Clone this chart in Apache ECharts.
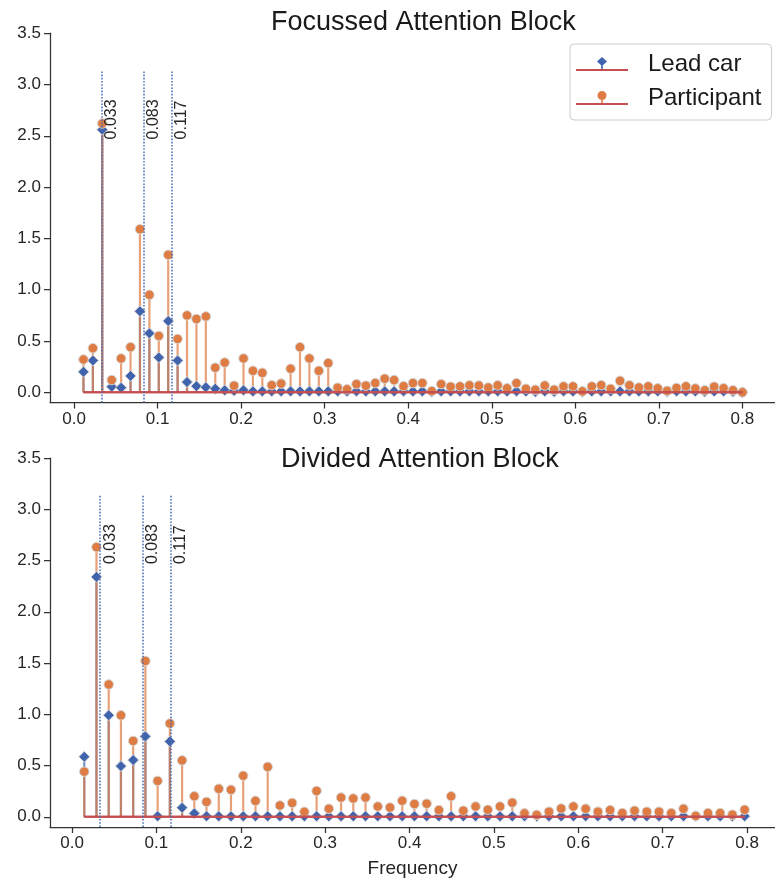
<!DOCTYPE html>
<html>
<head>
<meta charset="utf-8">
<script src="https://cdn.jsdelivr.net/npm/echarts@6/dist/echarts.min.js"></script>
<style>
  html, body { margin: 0; padding: 0; background: #fff; }
  #chart { width: 775px; height: 884px; }
</style>
</head>
<body>
<div id="chart"></div>
<script>
// ---------------- DATA ----------------
// Frequency grids (evenly spaced spectral bins)
const freqTop = Array.from({ length: 71 }, (_, i) => (i + 1) * 0.8 / 71);
const freqBottom = Array.from({ length: 55 }, (_, i) => (i + 1) / 69);

// Focussed Attention Block
const focLead = [0.20, 0.31, 2.56, 0.055, 0.045, 0.16, 0.79, 0.575, 0.34, 0.695,
  0.31, 0.10, 0.06, 0.05, 0.035, 0.02, 0.015, 0.02, 0.01, 0.01,
  0.01, 0.01, 0.01, 0.01, 0.01, 0.01, 0.01, 0.01, 0.01, 0.01,
  0.01, 0.01, 0.01, 0.01, 0.01, 0.01, 0.01, 0.005, 0.01, 0.01,
  0.01, 0.01, 0.01, 0.01, 0.01, 0.01, 0.01, 0.01, 0.005, 0.01,
  0.005, 0.01, 0.01, 0.005, 0.01, 0.01, 0.01, 0.01, 0.01, 0.01,
  0.01, 0.01, 0.005, 0.01, 0.01, 0.01, 0.005, 0.01, 0.01, 0.005, 0.0];
const focPart = [0.32, 0.43, 2.62, 0.12, 0.33, 0.44, 1.59, 0.95, 0.55, 1.34,
  0.52, 0.75, 0.715, 0.74, 0.24, 0.29, 0.065, 0.33, 0.21, 0.19,
  0.07, 0.085, 0.23, 0.44, 0.33, 0.21, 0.285, 0.045, 0.03, 0.08,
  0.065, 0.09, 0.133, 0.12, 0.06, 0.09, 0.09, 0.012, 0.08, 0.055,
  0.058, 0.068, 0.066, 0.047, 0.068, 0.04, 0.089, 0.035, 0.025, 0.066,
  0.025, 0.058, 0.058, 0.01, 0.058, 0.07, 0.034, 0.112, 0.068, 0.047,
  0.058, 0.039, 0.015, 0.043, 0.058, 0.038, 0.02, 0.055, 0.04, 0.02, 0.0];

// Divided Attention Block
const divLead = [0.585, 2.34, 0.99, 0.494, 0.553, 0.784, 0.005, 0.735, 0.088, 0.033,
  0.005, 0.005, 0.005, 0.005, 0.005, 0.005, 0.005, 0.005, 0.005, 0.005,
  0.005, 0.005, 0.005, 0.005, 0.005, 0.005, 0.005, 0.005, 0.005, 0.005,
  0.005, 0.005, 0.005, 0.005, 0.005, 0.005, 0.005, 0.005, 0.005, 0.005,
  0.005, 0.005, 0.005, 0.005, 0.005, 0.005, 0.005, 0.005, 0.005, 0.005,
  0.005, 0.005, 0.005, 0.005, 0.005];
const divPart = [0.44, 2.63, 1.29, 0.99, 0.74, 1.52, 0.35, 0.91, 0.55, 0.20,
  0.145, 0.273, 0.263, 0.40, 0.155, 0.487, 0.11, 0.135, 0.048, 0.252,
  0.078, 0.187, 0.178, 0.187, 0.10, 0.09, 0.156, 0.124, 0.127, 0.065,
  0.20, 0.059, 0.10, 0.068, 0.10, 0.137, 0.033, 0.018, 0.049, 0.08,
  0.10, 0.078, 0.049, 0.065, 0.036, 0.059, 0.049, 0.049, 0.036, 0.078,
  0.008, 0.036, 0.036, 0.02, 0.068];

// Reference frequencies marked with dotted lines
const refFreqs = [1 / 30, 1 / 12, 7 / 60];
const refLabels = ['0.033', '0.083', '0.117'];
const refLineTop = 3.14;
const refLabelY = 2.46;

// Axis ticks
const xTicks = [0, 0.1, 0.2, 0.3, 0.4, 0.5, 0.6, 0.7, 0.8];
const yTicks = [0, 0.5, 1.0, 1.5, 2.0, 2.5, 3.0, 3.5];

const titles = ['Focussed Attention Block', 'Divided Attention Block'];
const seriesNames = ['Lead car', 'Participant'];

// ---------------- STYLE ----------------
const FONT = 'Liberation Sans, Arial, Helvetica, sans-serif';
const BLUE = '#3f63ad';
const ORANGE = '#df7c44';
const RED = '#c44e52';
const AXIS = '#333333';
const TEXT = '#262626';

const chart = echarts.init(document.getElementById('chart'), null, { renderer: 'canvas' });

function stemSeries(freq, vals, color, g) {
  return {
    type: 'custom',
    xAxisIndex: g, yAxisIndex: g,
    silent: true,
    data: vals.map((v, i) => [freq[i], v]),
    renderItem: function (params, api) {
      const x = api.value(0), y = api.value(1);
      const p0 = api.coord([x, 0]);
      const p1 = api.coord([x, y]);
      return {
        type: 'line',
        shape: { x1: p0[0], y1: p0[1], x2: p1[0], y2: p1[1] },
        style: { stroke: color, lineWidth: 2.2, opacity: 0.72 }
      };
    }
  };
}

function markerSeries(freq, vals, name, symbol, size, color, g) {
  return {
    type: 'scatter', name: name,
    xAxisIndex: g, yAxisIndex: g,
    symbol: symbol, symbolSize: size,
    silent: true,
    itemStyle: { color: color, borderColor: '#d6d6d6', borderWidth: 1, opacity: 1 },
    data: vals.map((v, i) => [freq[i], v])
  };
}

function baselineSeries(freq, g) {
  return {
    type: 'line',
    xAxisIndex: g, yAxisIndex: g,
    symbol: 'none', silent: true,
    lineStyle: { color: RED, width: 2 },
    data: [[freq[0], 0], [freq[freq.length - 1], 0]]
  };
}

function guideSeries(g) {
  return {
    type: 'scatter',
    xAxisIndex: g, yAxisIndex: g,
    symbolSize: 1, silent: true,
    itemStyle: { color: 'rgba(0,0,0,0)' },
    data: refFreqs.map((f, i) => [f, refLabelY, refLabels[i]]),
    label: {
      show: true,
      formatter: p => p.value[2],
      rotate: 90,
      position: [2.5, 0],
      align: 'left',
      verticalAlign: 'top',
      fontSize: 16,
      fontFamily: FONT,
      color: TEXT,
      opacity: 1
    },
    markLine: {
      silent: true,
      symbol: 'none',
      label: { show: false },
      lineStyle: { color: '#4a6db0', type: [1.6, 1.6], width: 1.6, opacity: 0.95 },
      data: refFreqs.map(f => [{ coord: [f, -0.1] }, { coord: [f, refLineTop] }])
    }
  };
}

function xAxis(g, min, max, showName) {
  return {
    type: 'value', gridIndex: g, min: min, max: max,
    splitLine: { show: false },
    axisLine: { show: true, onZero: false, lineStyle: { color: AXIS, width: 1.25 } },
    axisTick: { show: true, customValues: xTicks, length: 6, lineStyle: { color: AXIS, width: 1.25 } },
    axisLabel: {
      customValues: xTicks, formatter: v => v.toFixed(1),
      fontSize: 17, fontFamily: FONT, color: TEXT, margin: 8
    },
    name: showName ? 'Frequency' : '',
    nameLocation: 'middle', nameGap: 32,
    nameTextStyle: { fontSize: 19, fontFamily: FONT, color: TEXT, verticalAlign: 'top' }
  };
}

function yAxis(g) {
  return {
    type: 'value', gridIndex: g, min: -0.1, max: 3.5,
    splitLine: { show: false },
    axisLine: { show: true, onZero: false, lineStyle: { color: AXIS, width: 1.25 } },
    axisTick: { show: true, customValues: yTicks, length: 6, lineStyle: { color: AXIS, width: 1.25 } },
    axisLabel: {
      customValues: yTicks, formatter: v => v.toFixed(1),
      fontSize: 17, fontFamily: FONT, color: TEXT, margin: 9
    }
  };
}

const leadIcon = 'path://M26,0 L31,4.5 L26,9 L21,4.5 Z M25.2,8 L26.8,8 L26.8,12.2 L25.2,12.2 Z M0,12.1 L52,12.1 L52,14 L0,14 Z';
const partIcon = 'path://M21.5,4.5 A4.5,4.5 0 1,1 30.5,4.5 A4.5,4.5 0 1,1 21.5,4.5 Z M25.2,8 L26.8,8 L26.8,12.2 L25.2,12.2 Z M0,12.1 L52,12.1 L52,14 L0,14 Z';
function iconGrad(c) {
  return {
    type: 'linear', x: 0, y: 0, x2: 0, y2: 1,
    colorStops: [
      { offset: 0, color: c }, { offset: 0.865, color: c },
      { offset: 0.865, color: RED }, { offset: 1, color: RED }
    ]
  };
}

const option = {
  animation: false,
  backgroundColor: '#ffffff',
  title: [
    { text: titles[0], left: 271, top: 9, padding: 0,
      textStyle: { fontSize: 27, fontWeight: 'normal', fontFamily: FONT, color: '#1a1a1a' } },
    { text: titles[1], left: 281, top: 446, padding: 0,
      textStyle: { fontSize: 27, fontWeight: 'normal', fontFamily: FONT, color: '#1a1a1a' } }
  ],
  legend: {
    orient: 'vertical',
    left: 570, top: 44,
    padding: [8, 10, 10, 6],
    itemWidth: 52, itemHeight: 15, itemGap: 10,
    selectedMode: false,
    backgroundColor: 'rgba(255,255,255,0.85)',
    borderColor: '#cccccc', borderWidth: 1, borderRadius: 4,
    textStyle: { fontSize: 24, fontFamily: FONT, color: '#1a1a1a', padding: [0, 0, 0, 15] },
    data: [
      { name: seriesNames[0], icon: leadIcon, itemStyle: { color: iconGrad(BLUE), borderWidth: 0 } },
      { name: seriesNames[1], icon: partIcon, itemStyle: { color: iconGrad(ORANGE), borderWidth: 0 } }
    ]
  },
  grid: [
    { left: 50, top: 33.2, width: 733.3, height: 369.4, containLabel: false },
    { left: 50, top: 458, width: 735, height: 369, containLabel: false }
  ],
  xAxis: [xAxis(0, -0.0288, 0.839, false), xAxis(1, -0.0261, 0.8331, true)],
  yAxis: [yAxis(0), yAxis(1)],
  series: [
    stemSeries(freqTop, focLead, BLUE, 0),
    stemSeries(freqTop, focPart, ORANGE, 0),
    guideSeries(0),
    markerSeries(freqTop, focLead, seriesNames[0], 'diamond', 11, BLUE, 0),
    baselineSeries(freqTop, 0),
    markerSeries(freqTop, focPart, seriesNames[1], 'circle', 9.5, ORANGE, 0),
    baselineSeries(freqTop, 0),

    stemSeries(freqBottom, divLead, BLUE, 1),
    stemSeries(freqBottom, divPart, ORANGE, 1),
    guideSeries(1),
    markerSeries(freqBottom, divLead, seriesNames[0], 'diamond', 11, BLUE, 1),
    baselineSeries(freqBottom, 1),
    markerSeries(freqBottom, divPart, seriesNames[1], 'circle', 9.5, ORANGE, 1),
    baselineSeries(freqBottom, 1)
  ]
};

chart.setOption(option);
</script>
</body>
</html>
